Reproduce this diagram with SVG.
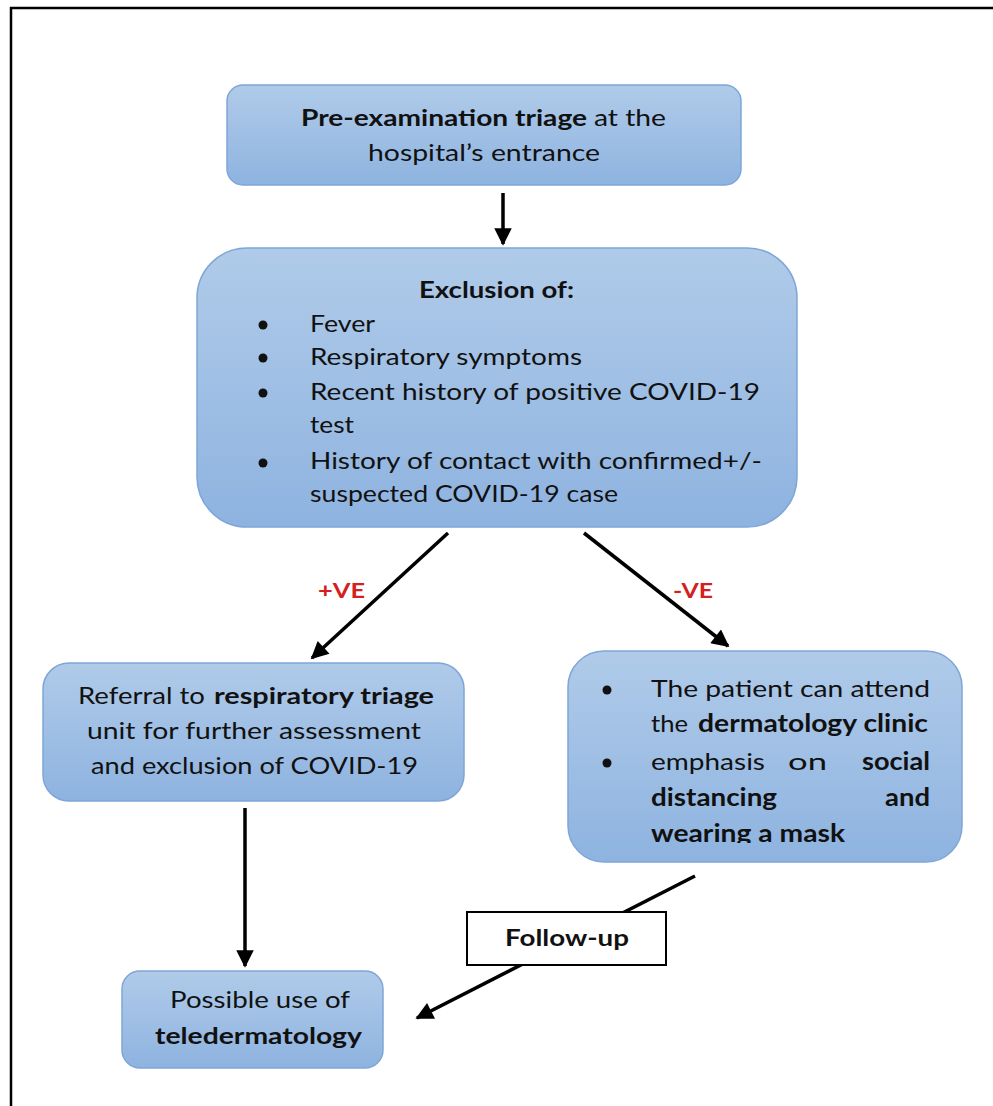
<svg xmlns="http://www.w3.org/2000/svg" width="993" height="1106" viewBox="0 0 993 1106">
<defs>
<linearGradient id="g" x1="0" y1="0" x2="0" y2="1">
<stop offset="0" stop-color="#b0cbe9"/>
<stop offset="1" stop-color="#8eb3e0"/>
</linearGradient>
<marker id="ah" viewBox="0 0 10 10" refX="9" refY="5" markerWidth="6" markerHeight="5" markerUnits="strokeWidth" orient="auto">
<path d="M0,0 L10,5 L0,10 Z" fill="#000"/>
</marker>
<clipPath id="c4"><rect x="568" y="651" width="394" height="192"/></clipPath>
</defs>
<style>
.box{fill:url(#g);stroke:#7ea6d6;stroke-width:1.5}
.t{font-family:Lato,"Open Sans",sans-serif;font-size:23px;fill:#111}
.big{font-size:24px}
.b{font-weight:bold}
.red{font-family:Lato,sans-serif;font-size:21px;font-weight:bold;fill:#d42020}
.ln{stroke:#000;stroke-width:3.5;fill:none}
</style>
<rect x="11" y="8" width="1000" height="1120" fill="#fff" stroke="#000" stroke-width="2.5"/>
<g id="connectors">
<line class="ln" x1="503" y1="193" x2="503" y2="244" marker-end="url(#ah)"/>
<line class="ln" x1="448" y1="533" x2="312" y2="658" marker-end="url(#ah)"/>
<line class="ln" x1="584" y1="533" x2="728" y2="646" marker-end="url(#ah)"/>
<line class="ln" x1="245" y1="808" x2="245" y2="966" marker-end="url(#ah)"/>
<line class="ln" x1="695" y1="876" x2="417" y2="1018" marker-end="url(#ah)"/>
<text class="red" x="318" y="598" textLength="47" lengthAdjust="spacingAndGlyphs">+VE</text>
<text class="red" x="673" y="598" textLength="40" lengthAdjust="spacingAndGlyphs">-VE</text>
</g>
<g id="n1" class="t">
<rect class="box" x="227" y="85" width="514" height="100" rx="16"/>
<text class="b" x="301" y="126" textLength="286" lengthAdjust="spacingAndGlyphs">Pre-examination triage</text>
<text x="594" y="126" textLength="72" lengthAdjust="spacingAndGlyphs">at the</text>
<text x="368" y="161" textLength="232" lengthAdjust="spacingAndGlyphs">hospital’s entrance</text>
</g>
<g id="n2" class="t">
<rect class="box" x="197" y="248" width="600" height="279" rx="50"/>
<text class="b" x="419" y="298" textLength="155" lengthAdjust="spacingAndGlyphs">Exclusion of:</text>
<circle cx="263" cy="325" r="4.5"/>
<text x="310" y="332" textLength="65" lengthAdjust="spacingAndGlyphs">Fever</text>
<circle cx="263" cy="358" r="4.5"/>
<text x="310" y="365" textLength="272" lengthAdjust="spacingAndGlyphs">Respiratory symptoms</text>
<circle cx="263" cy="393" r="4.5"/>
<text x="310" y="400" textLength="450" lengthAdjust="spacingAndGlyphs">Recent history of positive COVID-19</text>
<text x="310" y="433" textLength="44" lengthAdjust="spacingAndGlyphs">test</text>
<circle cx="263" cy="463" r="4.5"/>
<text x="310" y="469" textLength="452" lengthAdjust="spacingAndGlyphs">History of contact with confirmed+/-</text>
<text x="310" y="502" textLength="308" lengthAdjust="spacingAndGlyphs">suspected COVID-19 case</text>
</g>
<g id="n3" class="t">
<rect class="box" x="43" y="663" width="421" height="138" rx="26"/>
<text x="78" y="704" textLength="127" lengthAdjust="spacingAndGlyphs">Referral to</text>
<text class="b" x="214" y="704" textLength="220" lengthAdjust="spacingAndGlyphs">respiratory triage</text>
<text x="87" y="739" textLength="334" lengthAdjust="spacingAndGlyphs">unit for further assessment</text>
<text x="91" y="774" textLength="327" lengthAdjust="spacingAndGlyphs">and exclusion of COVID-19</text>
</g>
<g id="n4" class="t big">
<rect class="box" x="568" y="651" width="394" height="211" rx="36"/>
<g clip-path="url(#c4)">
<circle cx="607" cy="690" r="4.5"/>
<text x="651" y="697" textLength="279" lengthAdjust="spacingAndGlyphs">The patient can attend</text>
<text x="651" y="732" textLength="37" lengthAdjust="spacingAndGlyphs">the</text>
<text class="b" x="698" y="732" textLength="230" lengthAdjust="spacingAndGlyphs">dermatology clinic</text>
<circle cx="607" cy="763" r="4.5"/>
<text x="651" y="770" textLength="114" lengthAdjust="spacingAndGlyphs">emphasis</text>
<text x="788" y="770" textLength="39" lengthAdjust="spacingAndGlyphs">on</text>
<text class="b" x="862" y="770" textLength="68" lengthAdjust="spacingAndGlyphs">social</text>
<text class="b" x="651" y="806" textLength="126" lengthAdjust="spacingAndGlyphs">distancing</text>
<text class="b" x="885" y="806" textLength="45" lengthAdjust="spacingAndGlyphs">and</text>
<text class="b" x="651" y="842" textLength="194" lengthAdjust="spacingAndGlyphs">wearing a mask</text>
</g>
</g>
<g id="n5" class="t">
<rect class="box" x="122" y="971" width="261" height="97" rx="18"/>
<text x="170" y="1008" textLength="180" lengthAdjust="spacingAndGlyphs">Possible use of</text>
<text class="b" x="155" y="1044" textLength="207" lengthAdjust="spacingAndGlyphs">teledermatology</text>
</g>
<g id="n6" class="t">
<rect x="467" y="912" width="199" height="53" fill="#fff" stroke="#000" stroke-width="2"/>
<text class="b" x="505" y="946" textLength="124" lengthAdjust="spacingAndGlyphs">Follow-up</text>
</g>
</svg>
